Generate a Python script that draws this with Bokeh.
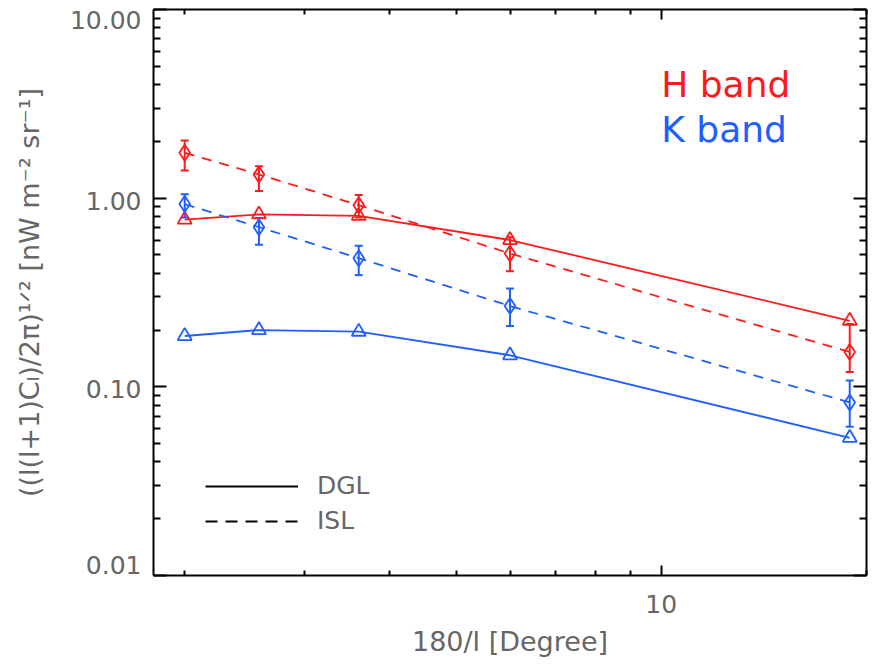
from bokeh.plotting import figure
from bokeh.models import (FixedTicker, PrintfTickFormatter, CustomJSTickFormatter, LogAxis,
                          Legend, LegendItem, Label, Range1d)
from bokeh.embed import file_html
from bokeh.resources import INLINE

# ---- data ----
angle_deg = [2.0, 2.57, 3.6, 6.0, 18.9]          # 180/l [Degree]

h_dgl = [0.77, 0.82, 0.806, 0.60, 0.224]
h_isl = [1.74, 1.335, 0.918, 0.509, 0.153]
h_isl_lo = [1.40, 1.093, 0.79, 0.41, 0.12]
h_isl_hi = [2.02, 1.477, 1.04, 0.62, 0.215]

k_dgl = [0.186, 0.200, 0.196, 0.147, 0.0537]
k_isl = [0.93, 0.702, 0.481, 0.268, 0.0827]
k_isl_lo = [0.79, 0.566, 0.391, 0.21, 0.0614]
k_isl_hi = [1.05, 0.786, 0.559, 0.332, 0.108]

x_major = [10]
x_minor = [2, 3, 4, 5, 6, 7, 8, 9, 20]
y_major = [0.01, 0.1, 1.0, 10.0]
y_minor = [m * d for d in [0.01, 0.1, 1.0] for m in range(2, 10)]
y_tick_labels = ["0.01", "0.10", "1.00", "10.00"]
# where the original (IDL) prints those labels: end labels sit inside the frame
y_label_at = [0.0113, 0.0976, 0.964, 8.85]

RED = "#ff1a1a"
BLUE = "#1f5fff"
GRAY = "#666666"
FONT = "DejaVu Sans"

p = figure(width=870, height=664, x_axis_type="log", y_axis_type="log",
           x_range=Range1d(1.8, 20), y_range=Range1d(0.01, 10),
           output_backend="svg", toolbar_location=None,
           min_border_left=153, min_border_right=4, min_border_top=9,
           min_border_bottom=89)
p.grid.visible = False
p.outline_line_color = None
p.background_fill_color = "white"
p.border_fill_color = "white"


def style(ax, major_in, minor_in):
    ax.axis_line_color = "black"
    ax.axis_line_width = 2
    ax.major_tick_in = major_in
    ax.major_tick_out = 0
    ax.minor_tick_in = minor_in
    ax.minor_tick_out = 0
    ax.major_tick_line_color = "black"
    ax.major_tick_line_width = 2
    ax.minor_tick_line_color = "black"
    ax.minor_tick_line_width = 2
    ax.major_label_text_font = FONT
    ax.major_label_text_color = GRAY
    ax.major_label_text_font_size = "25px"
    ax.axis_label_text_font = FONT
    ax.axis_label_text_color = GRAY
    ax.axis_label_text_font_size = "27px"
    ax.axis_label_text_font_style = "normal"


def hide_labels(ax):
    ax.major_label_text_font_size = "1px"
    ax.major_label_text_alpha = 0
    ax.major_label_standoff = 0


xa = p.xaxis[0]
xa.ticker = FixedTicker(ticks=x_major, minor_ticks=x_minor)
xa.formatter = PrintfTickFormatter(format="%d")
style(xa, 10, 5)
xa.major_label_standoff = 19
xa.axis_label = "180/l [Degree]"
xa.axis_label_standoff = 10

ya = p.yaxis[0]
ya.ticker = FixedTicker(ticks=y_major, minor_ticks=y_minor)
style(ya, 13, 7)
hide_labels(ya)

# label-only axis carrying the y tick labels (placed as in the original)
yl = LogAxis(ticker=FixedTicker(ticks=y_label_at, minor_ticks=[]),
             formatter=CustomJSTickFormatter(args=dict(labels=y_tick_labels),
                                             code="return labels[index]"))
style(yl, 0, 0)
yl.axis_line_color = None
yl.major_tick_line_color = None
yl.minor_tick_line_color = None
yl.major_label_standoff = 12
yl.axis_label = "((l(l+1)Cₗ)/2π)¹ᐟ² [nW m⁻² sr⁻¹]"
yl.axis_label_standoff = 22
p.add_layout(yl, "left")

top = LogAxis(ticker=FixedTicker(ticks=x_major, minor_ticks=x_minor))
style(top, 10, 5)
hide_labels(top)
p.add_layout(top, "above")

right = LogAxis(ticker=FixedTicker(ticks=y_major, minor_ticks=y_minor))
style(right, 13, 7)
hide_labels(right)
p.add_layout(right, "right")

# ---- error bars ----
for lo, hi, col in [(h_isl_lo, h_isl_hi, RED), (k_isl_lo, k_isl_hi, BLUE)]:
    p.segment(x0=angle_deg, x1=angle_deg, y0=lo, y1=hi, line_color=col, line_width=2)
    p.scatter(x=angle_deg, y=lo, marker="dash", size=8, line_color=col, line_width=2)
    p.scatter(x=angle_deg, y=hi, marker="dash", size=8, line_color=col, line_width=2)

# ---- lines ----
for vals, col in [(h_dgl, RED), (k_dgl, BLUE)]:
    p.line(x=angle_deg, y=vals, line_color=col, line_width=1.8)
    p.scatter(x=angle_deg, y=vals, marker="triangle", size=14, fill_color=None,
              line_color=col, line_width=1.8)
for vals, col in [(h_isl, RED), (k_isl, BLUE)]:
    p.line(x=angle_deg, y=vals, line_color=col, line_width=1.8, line_dash="10 8")
    p.scatter(x=angle_deg, y=vals, marker="diamond", size=16, fill_color=None,
              line_color=col, line_width=1.8)

# ---- legend (line style) ----
r_dgl = p.line(x=[1.0], y=[1.0], line_color="black", line_width=2)
r_isl = p.line(x=[1.0], y=[1.0], line_color="black", line_width=2, line_dash="12 8")
legend = Legend(items=[LegendItem(label="DGL", renderers=[r_dgl]),
                       LegendItem(label="ISL", renderers=[r_isl])],
                location=(52, 40), glyph_width=93, glyph_height=28,
                label_height=28, label_standoff=19, spacing=6,
                padding=0, margin=0, border_line_alpha=0,
                background_fill_alpha=0,
                label_text_font=FONT, label_text_font_size="25px",
                label_text_color=GRAY)
p.add_layout(legend)

# ---- band labels ----
p.add_layout(Label(x=10, y=4.0, text="H band", text_color=RED, text_font=FONT,
                   text_font_size="36px", text_baseline="middle", text_align="left"))
p.add_layout(Label(x=10, y=2.32, text="K band", text_color=BLUE, text_font=FONT,
                   text_font_size="36px", text_baseline="middle", text_align="left"))

open("out.html", "w").write(file_html(p, INLINE))
